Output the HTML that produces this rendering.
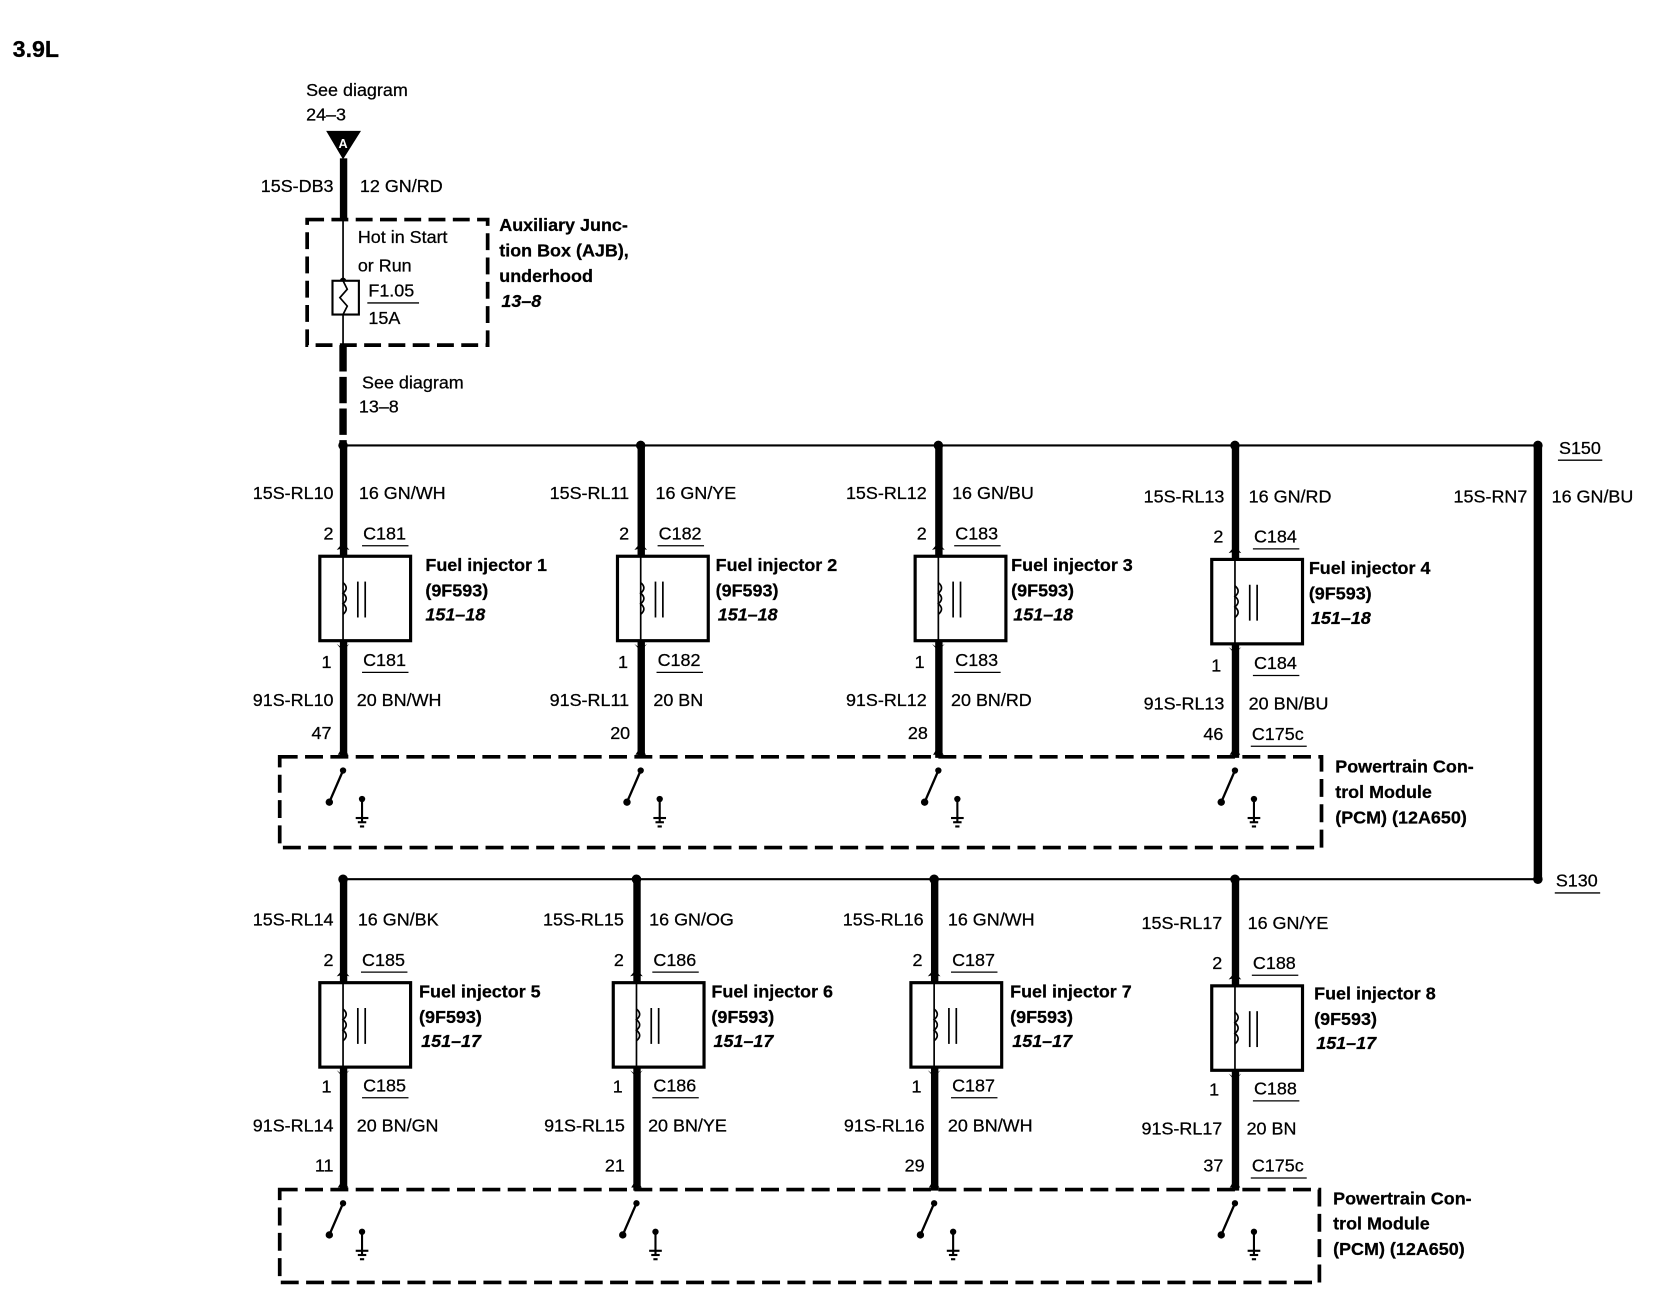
<!DOCTYPE html>
<html><head><meta charset="utf-8"><style>
html,body{margin:0;padding:0;background:#fff;}
svg{display:block;}
text{font-family:"Liberation Sans",Arial,sans-serif;font-size:17px;fill:#000;stroke:#000;stroke-width:0.25;}
.b{font-weight:bold;}
.bi{font-weight:bold;font-style:italic;}
.r{text-anchor:end;}
</style></head><body>
<svg width="1654" height="1312" viewBox="0 0 1567 1243" preserveAspectRatio="none" xmlns="http://www.w3.org/2000/svg">
<rect width="1567" height="1243" fill="#fff"/>
<text x="12" y="54" class="b" style="font-size:22px">3.9L</text>

<!-- Top feed -->
<text x="290" y="91">See diagram</text>
<text x="290" y="114">24–3</text>
<polygon points="309,124 342,124 325,151" fill="#000"/>
<text x="325" y="140" text-anchor="middle" style="font-size:12px;fill:#fff;stroke:none" class="b">A</text>
<rect x="322" y="150" width="7" height="58" fill="#000"/>
<text x="316" y="182" class="r">15S-DB3</text>
<text x="341" y="182">12 GN/RD</text>
<rect x="291" y="208" width="171" height="119" fill="none" stroke="#000" stroke-width="3.5" stroke-dasharray="16,7"/>
<line x1="325" y1="208" x2="325" y2="327" stroke="#000" stroke-width="1.6"/>
<circle cx="325" cy="266" r="3" fill="#000"/>
<rect x="315" y="266" width="25" height="32" fill="#fff" stroke="#000" stroke-width="2"/>
<path d="M325,266 l4,8 l-7,8 l7,8 l-4,8" fill="none" stroke="#000" stroke-width="1.6"/>
<text x="339" y="230">Hot in Start</text>
<text x="339" y="257">or Run</text>
<text x="349" y="281">F1.05</text>
<line x1="348" y1="287" x2="397" y2="287" stroke="#000" stroke-width="1.2"/>
<text x="349" y="307">15A</text>
<text x="473" y="219" class="b">Auxiliary Junc-</text>
<text x="473" y="243" class="b">tion Box (AJB),</text>
<text x="473" y="267" class="b">underhood</text>
<text x="475" y="291" class="bi">13–8</text>
<line x1="325" y1="327" x2="325" y2="422" stroke="#000" stroke-width="7" stroke-dasharray="25,5"/>
<text x="343" y="368">See diagram</text>
<text x="340" y="391">13–8</text>

<!-- Buses -->
<line x1="325" y1="422" x2="1457" y2="422" stroke="#000" stroke-width="2"/>
<line x1="325" y1="833" x2="1457" y2="833" stroke="#000" stroke-width="2"/>
<rect x="1453" y="422" width="8" height="411" fill="#000"/>
<circle cx="1457" cy="422" r="4.5" fill="#000"/>
<circle cx="1457" cy="833" r="4.5" fill="#000"/>
<text x="1477" y="430">S150</text><line x1="1476" y1="436" x2="1518" y2="436" stroke="#000" stroke-width="1.3"/>
<text x="1474" y="840">S130</text><line x1="1473" y1="846" x2="1516" y2="846" stroke="#000" stroke-width="1.3"/>
<text x="1447" y="476" class="r">15S-RN7</text>
<text x="1470" y="476">16 GN/BU</text>

<!-- PCM boxes -->
<rect x="265" y="717" width="987" height="86" fill="none" stroke="#000" stroke-width="3.5" stroke-dasharray="17,7"/>
<text x="1265" y="732" class="b">Powertrain Con-</text>
<text x="1265" y="756" class="b">trol Module</text>
<text x="1265" y="780" class="b">(PCM) (12A650)</text>
<rect x="265" y="1127" width="985" height="88" fill="none" stroke="#000" stroke-width="3.5" stroke-dasharray="17,7"/>
<text x="1263" y="1141" class="b">Powertrain Con-</text>
<text x="1263" y="1165" class="b">trol Module</text>
<text x="1263" y="1189" class="b">(PCM) (12A650)</text>

<defs>
<g id="inj">
 <rect x="-22" y="0" width="86" height="80" fill="#fff" stroke="#000" stroke-width="3"/>
 <line x1="0" y1="0" x2="0" y2="80" stroke="#000" stroke-width="1.6"/>
 <path d="M0,25 q6,5 0,10 q6,5 0,10 q6,5 0,10" fill="none" stroke="#000" stroke-width="1.6"/>
 <line x1="14" y1="24" x2="14" y2="58" stroke="#000" stroke-width="1.6"/>
 <line x1="21" y1="24" x2="21" y2="58" stroke="#000" stroke-width="1.6"/>
 <polygon points="-6,-6 0,-13 6,-6 2,-7 2,0 -2,0 -2,-7" fill="#000"/>
 <polygon points="-6,83 -2,86 -2,92 2,92 2,86 6,83 0,90" fill="#000"/>
</g>
<g id="sw">
 <polygon points="-5,-2 0,-10 5,-2" fill="#000"/>
 <circle cx="0" cy="13" r="3" fill="#000"/>
 <line x1="0" y1="13" x2="-13" y2="43" stroke="#000" stroke-width="2.2"/>
 <circle cx="-13" cy="43" r="3.5" fill="#000"/>
 <circle cx="18" cy="40" r="3" fill="#000"/>
 <line x1="18" y1="40" x2="18" y2="62" stroke="#000" stroke-width="2"/>
 <line x1="12" y1="58" x2="24" y2="58" stroke="#000" stroke-width="2"/>
 <line x1="14" y1="62" x2="22" y2="62" stroke="#000" stroke-width="2"/>
 <line x1="16" y1="66" x2="20" y2="66" stroke="#000" stroke-width="2"/>
</g>
</defs>

<!-- ===== Top row ===== -->
<rect x="322" y="422" width="7" height="296" fill="#000"/>
<circle cx="325" cy="422" r="4.5" fill="#000"/>
<use href="#inj" x="325" y="527"/>
<use href="#sw" x="325" y="717"/>
<text x="316" y="473" class="r">15S-RL10</text><text x="340" y="473">16 GN/WH</text>
<text x="316" y="511" class="r">2</text><text x="344" y="511">C181</text><line x1="343" y1="517" x2="387" y2="517" stroke="#000" stroke-width="1.2"/>
<text x="403" y="541" class="b">Fuel injector 1</text><text x="403" y="565" class="b">(9F593)</text><text x="403" y="588" class="bi">151–18</text>
<text x="314" y="633" class="r">1</text><text x="344" y="631">C181</text><line x1="343" y1="637" x2="387" y2="637" stroke="#000" stroke-width="1.2"/>
<text x="316" y="669" class="r">91S-RL10</text><text x="338" y="669">20 BN/WH</text>
<text x="314" y="700" class="r">47</text>

<rect x="604" y="422" width="7" height="296" fill="#000"/>
<circle cx="607" cy="422" r="4.5" fill="#000"/>
<use href="#inj" x="607" y="527"/>
<use href="#sw" x="607" y="717"/>
<text x="596" y="473" class="r">15S-RL11</text><text x="621" y="473">16 GN/YE</text>
<text x="596" y="511" class="r">2</text><text x="624" y="511">C182</text><line x1="623" y1="517" x2="667" y2="517" stroke="#000" stroke-width="1.2"/>
<text x="678" y="541" class="b">Fuel injector 2</text><text x="678" y="565" class="b">(9F593)</text><text x="680" y="588" class="bi">151–18</text>
<text x="595" y="633" class="r">1</text><text x="623" y="631">C182</text><line x1="622" y1="637" x2="666" y2="637" stroke="#000" stroke-width="1.2"/>
<text x="596" y="669" class="r">91S-RL11</text><text x="619" y="669">20 BN</text>
<text x="597" y="700" class="r">20</text>

<rect x="886" y="422" width="7" height="296" fill="#000"/>
<circle cx="889" cy="422" r="4.5" fill="#000"/>
<use href="#inj" x="889" y="527"/>
<use href="#sw" x="889" y="717"/>
<text x="878" y="473" class="r">15S-RL12</text><text x="902" y="473">16 GN/BU</text>
<text x="878" y="511" class="r">2</text><text x="905" y="511">C183</text><line x1="904" y1="517" x2="948" y2="517" stroke="#000" stroke-width="1.2"/>
<text x="958" y="541" class="b">Fuel injector 3</text><text x="958" y="565" class="b">(9F593)</text><text x="960" y="588" class="bi">151–18</text>
<text x="876" y="633" class="r">1</text><text x="905" y="631">C183</text><line x1="904" y1="637" x2="948" y2="637" stroke="#000" stroke-width="1.2"/>
<text x="878" y="669" class="r">91S-RL12</text><text x="901" y="669">20 BN/RD</text>
<text x="879" y="700" class="r">28</text>

<rect x="1167" y="422" width="7" height="296" fill="#000"/>
<circle cx="1170" cy="422" r="4.5" fill="#000"/>
<use href="#inj" x="1170" y="530"/>
<use href="#sw" x="1170" y="717"/>
<text x="1160" y="476" class="r">15S-RL13</text><text x="1183" y="476">16 GN/RD</text>
<text x="1159" y="514" class="r">2</text><text x="1188" y="514">C184</text><line x1="1187" y1="520" x2="1231" y2="520" stroke="#000" stroke-width="1.2"/>
<text x="1240" y="544" class="b">Fuel injector 4</text><text x="1240" y="568" class="b">(9F593)</text><text x="1242" y="591" class="bi">151–18</text>
<text x="1157" y="636" class="r">1</text><text x="1188" y="634">C184</text><line x1="1187" y1="640" x2="1231" y2="640" stroke="#000" stroke-width="1.2"/>
<text x="1160" y="672" class="r">91S-RL13</text><text x="1183" y="672">20 BN/BU</text>
<text x="1159" y="701" class="r">46</text><text x="1186" y="701">C175c</text><line x1="1185" y1="707" x2="1238" y2="707" stroke="#000" stroke-width="1.2"/>

<!-- ===== Bottom row ===== -->
<rect x="322" y="833" width="7" height="295" fill="#000"/>
<circle cx="325" cy="833" r="4.5" fill="#000"/>
<use href="#inj" x="325" y="931"/>
<use href="#sw" x="325" y="1127"/>
<text x="316" y="877" class="r">15S-RL14</text><text x="339" y="877">16 GN/BK</text>
<text x="316" y="915" class="r">2</text><text x="343" y="915">C185</text><line x1="342" y1="921" x2="386" y2="921" stroke="#000" stroke-width="1.2"/>
<text x="397" y="945" class="b">Fuel injector 5</text><text x="397" y="969" class="b">(9F593)</text><text x="399" y="992" class="bi">151–17</text>
<text x="314" y="1035" class="r">1</text><text x="344" y="1034">C185</text><line x1="343" y1="1040" x2="387" y2="1040" stroke="#000" stroke-width="1.2"/>
<text x="316" y="1072" class="r">91S-RL14</text><text x="338" y="1072">20 BN/GN</text>
<text x="316" y="1110" class="r">11</text>

<rect x="600" y="833" width="7" height="295" fill="#000"/>
<circle cx="603" cy="833" r="4.5" fill="#000"/>
<use href="#inj" x="603" y="931"/>
<use href="#sw" x="603" y="1127"/>
<text x="591" y="877" class="r">15S-RL15</text><text x="615" y="877">16 GN/OG</text>
<text x="591" y="915" class="r">2</text><text x="619" y="915">C186</text><line x1="618" y1="921" x2="662" y2="921" stroke="#000" stroke-width="1.2"/>
<text x="674" y="945" class="b">Fuel injector 6</text><text x="674" y="969" class="b">(9F593)</text><text x="676" y="992" class="bi">151–17</text>
<text x="590" y="1035" class="r">1</text><text x="619" y="1034">C186</text><line x1="618" y1="1040" x2="662" y2="1040" stroke="#000" stroke-width="1.2"/>
<text x="592" y="1072" class="r">91S-RL15</text><text x="614" y="1072">20 BN/YE</text>
<text x="592" y="1110" class="r">21</text>

<rect x="882" y="833" width="7" height="295" fill="#000"/>
<circle cx="885" cy="833" r="4.5" fill="#000"/>
<use href="#inj" x="885" y="931"/>
<use href="#sw" x="885" y="1127"/>
<text x="875" y="877" class="r">15S-RL16</text><text x="898" y="877">16 GN/WH</text>
<text x="874" y="915" class="r">2</text><text x="902" y="915">C187</text><line x1="901" y1="921" x2="945" y2="921" stroke="#000" stroke-width="1.2"/>
<text x="957" y="945" class="b">Fuel injector 7</text><text x="957" y="969" class="b">(9F593)</text><text x="959" y="992" class="bi">151–17</text>
<text x="873" y="1035" class="r">1</text><text x="902" y="1034">C187</text><line x1="901" y1="1040" x2="945" y2="1040" stroke="#000" stroke-width="1.2"/>
<text x="876" y="1072" class="r">91S-RL16</text><text x="898" y="1072">20 BN/WH</text>
<text x="876" y="1110" class="r">29</text>

<rect x="1167" y="833" width="7" height="295" fill="#000"/>
<circle cx="1170" cy="833" r="4.5" fill="#000"/>
<use href="#inj" x="1170" y="934"/>
<use href="#sw" x="1170" y="1127"/>
<text x="1158" y="880" class="r">15S-RL17</text><text x="1182" y="880">16 GN/YE</text>
<text x="1158" y="918" class="r">2</text><text x="1187" y="918">C188</text><line x1="1186" y1="924" x2="1230" y2="924" stroke="#000" stroke-width="1.2"/>
<text x="1245" y="947" class="b">Fuel injector 8</text><text x="1245" y="971" class="b">(9F593)</text><text x="1247" y="994" class="bi">151–17</text>
<text x="1155" y="1038" class="r">1</text><text x="1188" y="1037">C188</text><line x1="1187" y1="1043" x2="1231" y2="1043" stroke="#000" stroke-width="1.2"/>
<text x="1158" y="1075" class="r">91S-RL17</text><text x="1181" y="1075">20 BN</text>
<text x="1159" y="1110" class="r">37</text><text x="1186" y="1110">C175c</text><line x1="1185" y1="1116" x2="1238" y2="1116" stroke="#000" stroke-width="1.2"/>
</svg>
</body></html>
